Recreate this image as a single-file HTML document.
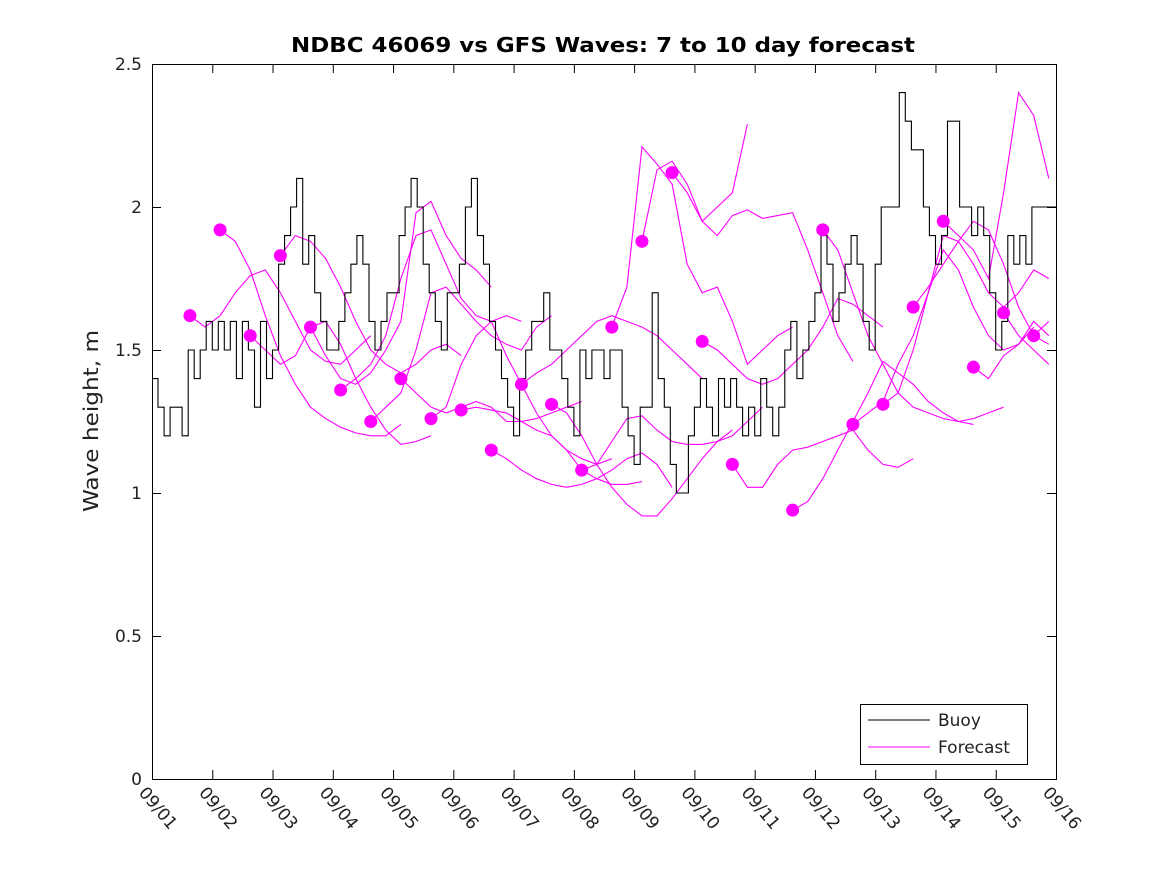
<!DOCTYPE html>
<html><head><meta charset="utf-8"><style>
html,body{margin:0;padding:0;background:#fff;}
svg{display:block;font-family:"DejaVu Sans","Liberation Sans",sans-serif;}
</style></head><body>
<svg id="chart" width="1167" height="875" viewBox="0 0 1167 875">
<rect x="0" y="0" width="1167" height="875" fill="#fff"/>
<text x="603" y="52" text-anchor="middle" font-size="20" font-weight="bold" fill="#000" textLength="624" lengthAdjust="spacingAndGlyphs">NDBC 46069 vs GFS Waves: 7 to 10 day forecast</text>
<text transform="translate(98,421) rotate(-90)" text-anchor="middle" font-size="20" fill="#222" textLength="182" lengthAdjust="spacingAndGlyphs">Wave height, m</text>
<g id="series"></g>
<rect x="152.5" y="64.5" width="904" height="715" fill="none" stroke="#000" stroke-width="1"/>
<g id="ticks"></g>
<g>
<rect x="860.5" y="704.5" width="167" height="60" fill="#fff" stroke="#000"/>
<line x1="868" y1="720" x2="930" y2="720" stroke="#000"/>
<text x="938" y="726" font-size="17" fill="#222">Buoy</text>
<line x1="868" y1="747" x2="930" y2="747" stroke="#f0f"/>
<text x="938" y="753" font-size="17" fill="#222">Forecast</text>
</g>
</svg>
<script>
const xTickLabels=["09/01","09/02","09/03","09/04","09/05","09/06","09/07","09/08","09/09","09/10","09/11","09/12","09/13","09/14","09/15","09/16"];
const yTicks=[0,0.5,1,1.5,2,2.5];
const yTickLabels=["0","0.5","1","1.5","2","2.5"];
const buoyValues=[
1.4,1.3,1.2,1.3,1.3,1.2,1.5,1.4,1.5,1.6,
1.5,1.6,1.5,1.6,1.4,1.6,1.5,1.3,1.6,1.4,
1.5,1.8,1.9,2.0,2.1,1.8,1.9,1.7,1.6,1.5,
1.5,1.6,1.7,1.8,1.9,1.8,1.6,1.5,1.6,1.7,
1.7,1.9,2.0,2.1,2.0,1.8,1.7,1.6,1.5,1.7,
1.7,1.8,2.0,2.1,1.9,1.8,1.6,1.5,1.4,1.3,
1.2,1.4,1.5,1.6,1.6,1.7,1.5,1.5,1.4,1.3,
1.2,1.5,1.4,1.5,1.5,1.4,1.5,1.5,1.3,1.2,
1.1,1.3,1.3,1.7,1.4,1.3,1.1,1.0,1.0,1.2,
1.3,1.4,1.3,1.2,1.4,1.3,1.4,1.3,1.2,1.3,
1.2,1.4,1.3,1.2,1.3,1.5,1.6,1.4,1.5,1.6,
1.7,1.9,1.8,1.6,1.7,1.8,1.9,1.8,1.6,1.5,
1.8,2.0,2.0,2.0,2.4,2.3,2.2,2.2,2.0,1.9,
1.8,1.9,2.3,2.3,2.0,2.0,1.9,2.0,1.9,1.7,
1.5,1.6,1.9,1.8,1.9,1.8,2.0,2.0,2.0,2.0,
2.0];
const forecastStarts=[0.63,1.13,1.63,2.13,2.63,3.13,3.63,4.13,4.63,5.13,5.63,6.13,6.63,7.13,7.63,8.13,8.63,9.13,9.63,10.63,11.13,11.63,12.13,12.63,13.13,13.63,14.13,14.63];
const forecastStep=0.25;
const f00=[1.62,1.58,1.62,1.70,1.76,1.78,1.70,1.60,1.50,1.46,1.45,1.50,1.55];
const f01=[1.92,1.88,1.78,1.62,1.48,1.38,1.30,1.26,1.23,1.21,1.20,1.20,1.24];
const f02=[1.55,1.50,1.45,1.48,1.58,1.60,1.52,1.40,1.30,1.22,1.17,1.18,1.20];
const f03=[1.83,1.90,1.88,1.82,1.72,1.60,1.50,1.45,1.42,1.45,1.50,1.52,1.48];
const f04=[1.58,1.48,1.40,1.38,1.42,1.50,1.60,1.98,2.02,1.90,1.82,1.78,1.72];
const f05=[1.36,1.40,1.45,1.55,1.75,1.90,1.92,1.80,1.68,1.62,1.60,1.62,1.60];
const f06=[1.25,1.30,1.35,1.50,1.70,1.72,1.66,1.60,1.55,1.52,1.50,1.58,1.62];
const f07=[1.40,1.35,1.30,1.28,1.30,1.32,1.30,1.25,1.25,1.26,1.28,1.30,1.32];
const f08=[1.26,1.30,1.45,1.55,1.60,1.48,1.38,1.28,1.20,1.15,1.12,1.10,1.12];
const f09=[1.29,1.30,1.29,1.28,1.25,1.22,1.20,1.15,1.08,1.05,1.03,1.03,1.04];
const f10=[1.15,1.12,1.08,1.05,1.03,1.02,1.03,1.05,1.08,1.12,1.14,1.10,1.02];
const f11=[1.38,1.42,1.45,1.50,1.55,1.60,1.62,1.60,1.58,1.55,1.50,1.45,1.40];
const f12=[1.31,1.28,1.20,1.10,1.02,0.96,0.92,0.92,0.98,1.05,1.12,1.18,1.22];
const f13=[1.08,1.10,1.18,1.26,1.27,1.22,1.18,1.17,1.17,1.18,1.20,1.25,1.30];
const f14=[1.58,1.72,2.21,2.15,2.08,1.80,1.70,1.72,1.60,1.45,1.50,1.55,1.58];
const f15=[1.88,2.13,2.16,2.08,1.95,2.00,2.05,2.29];
const f16=[2.12,2.05,1.95,1.90,1.97,1.99,1.96,1.97,1.98,1.85,1.70,1.55,1.46];
const f17=[1.53,1.50,1.45,1.40,1.38,1.40,1.45,1.50,1.58,1.68,1.66,1.62,1.58];
const f18=[1.10,1.02,1.02,1.10,1.15,1.16,1.18,1.20,1.22,1.15,1.10,1.09,1.12];
const f19=[0.94,0.97,1.05,1.15,1.25,1.35,1.46,1.42,1.38,1.32,1.28,1.25,1.24];
const f20=[1.92,1.85,1.70,1.55,1.45,1.35,1.30,1.28,1.26,1.25,1.26,1.28,1.30];
const f21=[1.24,1.28,1.32,1.45,1.55,1.70,1.85,1.78,1.65,1.55,1.50,1.52,1.58];
const f22=[1.31,1.35,1.50,1.70,1.90,1.88,1.80,1.70,1.65,1.70,1.78,1.75,1.70];
const f23=[1.65,1.72,1.80,1.88,1.95,1.92,1.80,1.65,1.55,1.60,1.70,1.80,1.90];
const f24=[1.95,1.90,1.85,1.75,2.05,2.40,2.32,2.10,1.95,1.85,1.87];
const f25=[1.44,1.40,1.48,1.52,1.60,1.55,1.42,1.45,1.60,1.62,1.55,1.50,1.50];
const f26=[1.63,1.55,1.50,1.45,1.42,1.45,1.50,1.55];
const f27=[1.55,1.52,1.48,1.45,1.48,1.52];
const forecastValues=[f00,f01,f02,f03,f04,f05,f06,f07,f08,f09,f10,f11,f12,f13,f14,f15,f16,f17,f18,f19,f20,f21,f22,f23,f24,f25,f26,f27];

const NS="http://www.w3.org/2000/svg";
const X0=152,X1=1056,Y0=779,Y1=64,DAYS=15,YMAX=2.5;
function xs(d){return X0+(X1-X0)*d/DAYS;}
function ys(v){return Y0-(Y0-Y1)*v/YMAX;}
function mk(tag,attrs,parent){const e=document.createElementNS(NS,tag);for(const k in attrs)e.setAttribute(k,attrs[k]);parent.appendChild(e);return e;}
const ticks=document.getElementById('ticks'),series=document.getElementById('series');

yTicks.forEach((v,i)=>{
  const y=ys(v)+0.5;
  const a=mk('line',{x1:X0,y1:y,x2:X0+9,y2:y,stroke:'#000'},ticks);
  
  
  const b=mk('line',{x1:X1-9,y1:y,x2:X1,y2:y,stroke:'#000'},ticks);
  
  
  const t=mk('text',{x:X0-10,y:ys(v)+6,'text-anchor':'end','font-size':'17',fill:'#222'},ticks);
  t.textContent=yTickLabels[i];
  
  
});
xTickLabels.forEach((lab,i)=>{
  const x=xs(i)+0.5;
  const a=mk('line',{x1:x,y1:Y0,x2:x,y2:Y0-9,stroke:'#000'},ticks);
  
  
  const b=mk('line',{x1:x,y1:Y1,x2:x,y2:Y1+9,stroke:'#000'},ticks);
  
  
  const t=mk('text',{transform:`translate(${xs(i)-14},${Y0+14}) rotate(50)`,'font-size':'17',fill:'#222'},ticks);
  t.textContent=lab;
  
  
});

forecastValues.forEach((arr,k)=>{
  const pts=[];
  arr.forEach((v,j)=>{const d=forecastStarts[k]+j*forecastStep; if(d<=DAYS) pts.push(xs(d).toFixed(1)+','+ys(v).toFixed(1));});
  const p=mk('polyline',{points:pts.join(' '),fill:'none',stroke:'#f0f','stroke-width':'1.1'},series);
  
  
});
(function(){
  const n=buoyValues.length,dt=DAYS/(n-1);let pts=[];
  buoyValues.forEach((v,i)=>{
    const x=xs(i*dt),y=ys(v);
    if(i>0) pts.push(x.toFixed(1)+','+ys(buoyValues[i-1]).toFixed(1));
    pts.push(x.toFixed(1)+','+y.toFixed(1));
  });
  const p=mk('polyline',{points:pts.join(' '),fill:'none',stroke:'#000','stroke-width':'1.1'},series);
  
  
})();
forecastValues.forEach((arr,k)=>{
  const c=mk('circle',{cx:xs(forecastStarts[k]),cy:ys(arr[0]),r:6.5,fill:'#f0f'},series);
  
  
});
</script>
</body></html>
